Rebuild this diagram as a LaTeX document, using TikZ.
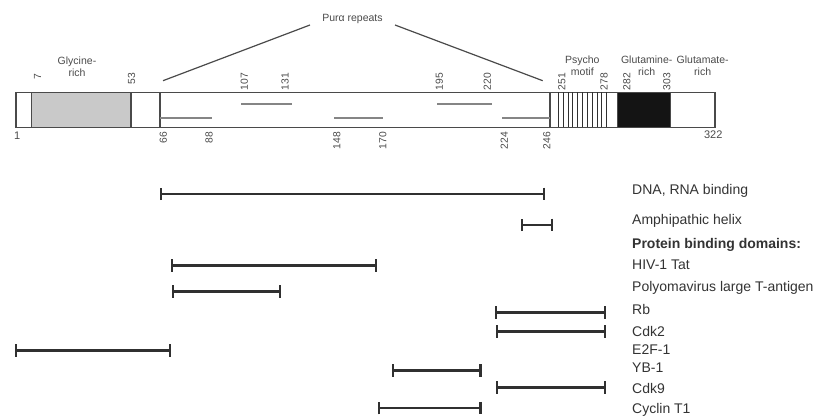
\documentclass[tikz,border=0pt]{standalone}
\usepackage{fontspec}
\setmainfont{Liberation Sans}
\usetikzlibrary{arrows.meta}
\definecolor{txt}{HTML}{333333}
\definecolor{toptxt}{HTML}{4A4A4A}
\definecolor{outl}{HTML}{4A4A4A}
\definecolor{repc}{HTML}{858585}
\definecolor{barc}{HTML}{303030}
\definecolor{glyc}{HTML}{C9C9C9}
\begin{document}
\begin{tikzpicture}[x=1pt,y=-1pt,
  outline/.style={draw=outl,line width=1.2pt},
  rep/.style={draw=repc,line width=1.9pt},
  toplabel/.style={inner sep=0pt,align=center,text=toptxt,font=\fontsize{10.5}{12}\selectfont},
  numtop/.style={rotate=90,anchor=east,inner sep=0pt,text=toptxt,font=\fontsize{10.3}{12}\selectfont},
  numbot/.style={rotate=90,anchor=east,inner sep=0pt,text=toptxt,font=\fontsize{10.3}{12}\selectfont},
  numflat/.style={inner sep=0pt,text=toptxt,font=\fontsize{11}{12}\selectfont},
  dombar/.style={draw=barc,line width=2.6pt,{Bar[width=12.5pt,line width=2.2pt]}-{Bar[width=12.5pt,line width=2.2pt]}},
  lbl/.style={anchor=base west,inner sep=0pt,text=txt,font=\fontsize{14}{16}\selectfont},
  purline/.style={draw=outl,line width=1.2pt}]
\useasboundingbox (0,0) rectangle (819,419);

% main bar
\fill[glyc] (31.7,92.5) rectangle (131,127.3);
\fill[black!92] (617.3,92.5) rectangle (670.5,127.3);
\draw[outline] (16,92.5) rectangle (715,127.3);
\draw[outline] (31.7,92.5) -- (31.7,127.3);
\draw[outline] (131,92.5) -- (131,127.3);
\draw[outline] (160,92.5) -- (160,127.3);
\draw[outline] (550,92.5) -- (550,127.3);
\foreach \i in {0,...,10}
  \draw[draw=barc,line width=0.9pt] (558.3+\i*4.84,92.5) -- (558.3+\i*4.84,127.3);
\draw[outline] (617.3,92.5) rectangle (670.5,127.3);

% repeats
\draw[rep] (160,118.3) -- (212,118.3);
\draw[rep] (334,118.3) -- (383,118.3);
\draw[rep] (502,118.3) -- (550,118.3);
\draw[rep] (241,103.7) -- (292,103.7);
\draw[rep] (437,103.7) -- (492,103.7);

% Pur alpha repeats
\node[toplabel] (pur) at (352.5,19) {Purα repeats};
\coordinate (purL) at (163,80.7);
\coordinate (purLt) at (310,25);
\coordinate (purR) at (542.7,80.7);
\coordinate (purRt) at (395,25);
\draw[purline] (purL) -- (purLt);
\draw[purline] (purRt) -- (purR);

% region labels
\node[toplabel] (gly) at (77,66.5) {Glycine-\\rich};
\node[toplabel] (psy) at (582.3,66) {Psycho\\motif};
\node[toplabel] (gln) at (646.7,66) {Glutamine-\\rich};
\node[toplabel] (glu) at (702.7,66) {Glutamate-\\rich};

% numbers above
\node[numtop] (n7) at (37.7,73.5) {7};
\node[numtop] (n53) at (131.7,72.7) {53};
\node[numtop] (n107) at (244.3,72.7) {107};
\node[numtop] (n131) at (285,72.7) {131};
\node[numtop] (n195) at (439.3,72.7) {195};
\node[numtop] (n220) at (487.3,72.7) {220};
\node[numtop] (n251) at (561.7,72.7) {251};
\node[numtop] (n278) at (604,72.7) {278};
\node[numtop] (n282) at (626.7,72.7) {282};
\node[numtop] (n303) at (666.7,72.7) {303};

% numbers below
\node[numflat] (n1) at (17.3,136) {1};
\node[numbot] (n66) at (163.3,131.7) {66};
\node[numbot] (n88) at (209,131.7) {88};
\node[numbot] (n148) at (336.7,131.7) {148};
\node[numbot] (n170) at (382.7,131.7) {170};
\node[numbot] (n224) at (504.3,131.7) {224};
\node[numbot] (n246) at (546.7,131.7) {246};
\node[numflat] (n322) at (713.3,135) {322};

% domain bars
\coordinate (dnaA) at (160,194); \coordinate (dnaB) at (545,194);
\coordinate (ampA) at (521,225); \coordinate (ampB) at (553,225);
\coordinate (hivA) at (171,265.5); \coordinate (hivB) at (377,265.5);
\coordinate (polA) at (172,291.5); \coordinate (polB) at (281,291.5);
\coordinate (rbA) at (495,312.7); \coordinate (rbB) at (605.7,312.7);
\coordinate (cdkA) at (496,331.7); \coordinate (cdkB) at (605.7,331.7);
\coordinate (e2fA) at (14.7,350.7); \coordinate (e2fB) at (171,350.7);
\coordinate (ybA) at (392,370.5); \coordinate (ybB) at (481.5,370.5);
\coordinate (cd9A) at (496,387.5); \coordinate (cd9B) at (605.7,387.5);
\coordinate (cycA) at (377.7,408); \coordinate (cycB) at (481.5,408);
\draw[dombar] (dnaA) -- (dnaB);
\draw[dombar] (ampA) -- (ampB);
\draw[dombar] (hivA) -- (hivB);
\draw[dombar] (polA) -- (polB);
\draw[dombar] (rbA) -- (rbB);
\draw[dombar] (cdkA) -- (cdkB);
\draw[dombar] (e2fA) -- (e2fB);
\draw[dombar] (ybA) -- (ybB);
\draw[dombar] (cd9A) -- (cd9B);
\draw[dombar] (cycA) -- (cycB);

% labels
\node[lbl] (tdna) at (632,195) {DNA, RNA binding};
\node[lbl] (tamp) at (632,225) {Amphipathic helix};
\node[lbl] (tpro) at (632,249) {\bfseries Protein binding domains:};
\node[lbl] (thiv) at (632,269.5) {HIV-1 Tat};
\node[lbl] (tpol) at (632,292) {Polyomavirus large T-antigen};
\node[lbl] (trb) at (632,315) {Rb};
\node[lbl] (tcdk) at (632,337) {Cdk2};
\node[lbl] (te2f) at (632,354.3) {E2F-1};
\node[lbl] (tyb) at (632,372.3) {YB-1};
\node[lbl] (tcd9) at (632,393.3) {Cdk9};
\node[lbl] (tcyc) at (632,413.3) {Cyclin T1};
\end{tikzpicture}
\end{document}
